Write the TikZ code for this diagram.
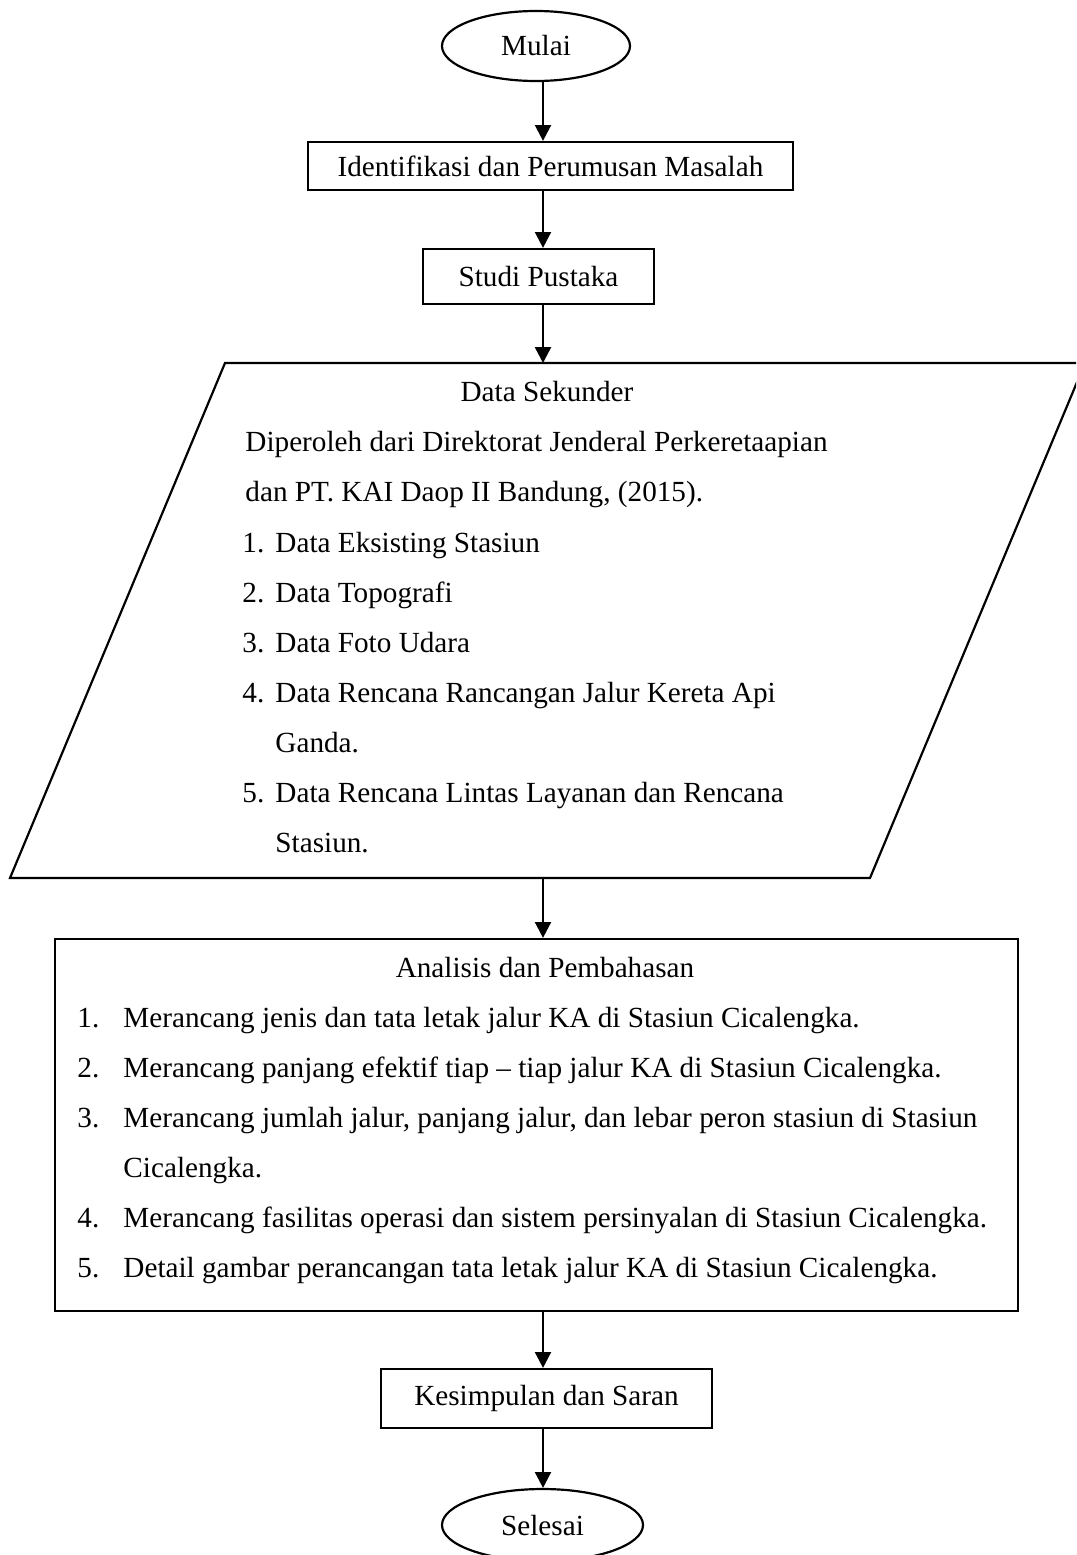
\documentclass[tikz,border=0pt]{standalone}
\usepackage{fontspec}
\setmainfont{Liberation Serif}
\usetikzlibrary{shapes.geometric,arrows.meta}

\def\px{0.411pt}

\tikzset{
	every node/.style={font=\fontsize{12}{14}\selectfont},
	proses/.style={draw, rectangle, line width=0.9pt, inner sep=0pt},
	terminal/.style={draw, ellipse, line width=0.9pt, inner sep=0pt},
	baris/.style={anchor=base west, inner sep=0pt},
	judul/.style={anchor=base, inner sep=0pt},
	alur/.style={-{Triangle[width=6.5pt,length=6.5pt]}, line width=1pt}
}

\begin{document}
\begin{tikzpicture}[x=\px, y=-\px]

		\clip (0,0) rectangle (1076,1555);
		\coordinate (sumbu) at (543,0);

		\node (mulai) [terminal, minimum width=188*\px, minimum height=70*\px] at (536,46) {Mulai};
		\node (identifikasi) [proses, minimum width=485*\px, minimum height=48*\px] at (550.5,166) {Identifikasi dan Perumusan Masalah};
		\node (studi) [proses, minimum width=231*\px, minimum height=55*\px] at (538.5,276.5) {Studi Pustaka};

		% data sekunder
		\coordinate (skA) at (10,878);
		\coordinate (skB) at (870,878);
		\coordinate (skC) at (1085,363);
		\coordinate (skD) at (225,363);
		\coordinate (skAtas) at (543,363);
		\coordinate (skBawah) at (543,878);
		\draw [line width=0.9pt] (skA) -- (skB) -- (skC) -- (skD) -- cycle;

		\node (sekunder) [judul] at (547,401) {Data Sekunder};
		\node (sumber1) [baris] at (245,451) {Diperoleh dari Direktorat Jenderal Perkeretaapian};
		\node (sumber2) [baris] at (245,501) {dan PT. KAI Daop II Bandung, (2015).};
		\foreach \no/\y in {1/552, 2/602, 3/652, 4/702, 5/802} {
		    \node (dsno\no) [baris] at (242,\y) {\no.};
		}
		\foreach \y/\isi in {552/Data Eksisting Stasiun, 602/Data Topografi, 652/Data Foto Udara,
		    702/Data Rencana Rancangan Jalur Kereta Api, 752/Ganda.,
		    802/Data Rencana Lintas Layanan dan Rencana, 852/Stasiun.} {
		    \node (dsisi\y) [baris] at (275,\y) {\isi};
		}

		% analisis
		\node (analisis) [proses, minimum width=963*\px, minimum height=372*\px] at (536.5,1125) {};
		\node (judulanalisis) [judul] at (545,977) {Analisis dan Pembahasan};
		\foreach \no/\y in {1/1027, 2/1077, 3/1127, 4/1227, 5/1277} {
		    \node (anno\no) [baris] at (77,\y) {\no.};
		}
		\foreach \y/\isi in {1027/Merancang jenis dan tata letak jalur KA di Stasiun Cicalengka.,
		    1077/Merancang panjang efektif tiap – tiap jalur KA di Stasiun Cicalengka.,
		    1127/{Merancang jumlah jalur, panjang jalur, dan lebar peron stasiun di Stasiun},
		    1177/Cicalengka.,
		    1227/Merancang fasilitas operasi dan sistem persinyalan di Stasiun Cicalengka.,
		    1277/Detail gambar perancangan tata letak jalur KA di Stasiun Cicalengka.} {
		    \node (anisi\y) [baris] at (123,\y) {\isi};
		}

		\node (kesimpulan) [proses, minimum width=331*\px, minimum height=59*\px] at (546.5,1398.5) {Kesimpulan dan Saran};
		\node (selesai) [terminal, minimum width=201*\px, minimum height=72*\px] at (542.5,1525) {Selesai};

		\draw [alur] (mulai.south -| sumbu) -- (identifikasi.north -| sumbu);
		\draw [alur] (identifikasi.south -| sumbu) -- (studi.north -| sumbu);
		\draw [alur] (studi.south -| sumbu) -- (skAtas);
		\draw [alur] (skBawah) -- (analisis.north -| sumbu);
		\draw [alur] (analisis.south -| sumbu) -- (kesimpulan.north -| sumbu);
		\draw [alur] (kesimpulan.south -| sumbu) -- (selesai.north -| sumbu);
	\end{tikzpicture}
\end{document}
